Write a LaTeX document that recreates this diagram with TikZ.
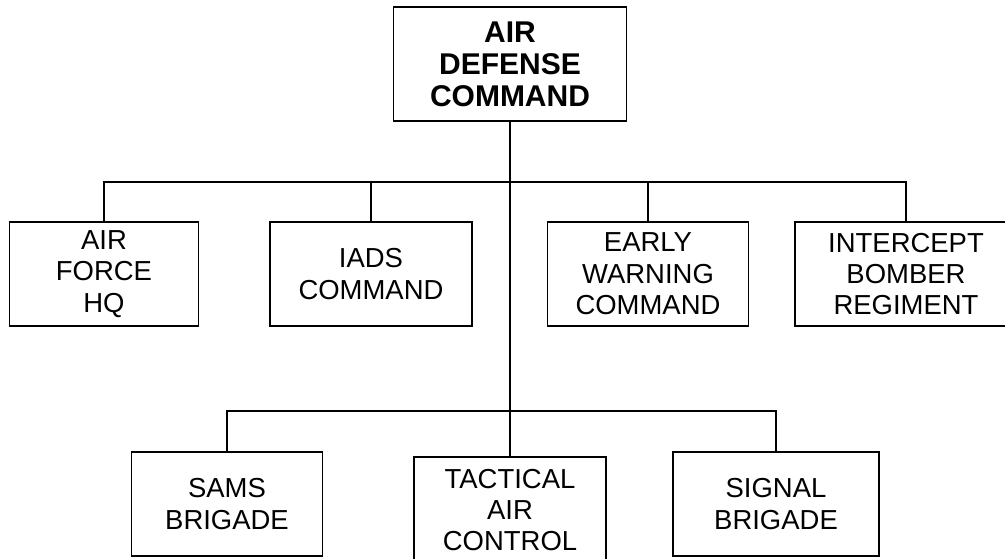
\documentclass[tikz,border=0pt]{standalone}
\usepackage{fontspec}
\setmainfont{Liberation Sans}

\begin{document}
\begin{tikzpicture}[x=0.75pt, y=-0.75pt,
    unitbox/.style={draw, line width=1pt, align=center, inner sep=0pt,
        font=\fontsize{20.6}{23.5}\selectfont},
    headbox/.style={unitbox, font=\fontsize{22.5}{24}\selectfont\bfseries},
    link/.style={line width=1pt}]
    \useasboundingbox (0,0) rectangle (1005,559);

    % Command at the top
    \node[headbox, minimum width=0.75*233pt, minimum height=0.75*114pt] (adc) at (510, 64) {AIR\\DEFENSE\\COMMAND};

    % First row of units
    \node[unitbox, minimum width=0.75*189pt, minimum height=0.75*104pt] (afhq) at (104, 274) {AIR\\FORCE\\HQ};
    \node[unitbox, minimum width=0.75*202pt, minimum height=0.75*104pt] (iads) at (371, 274) {IADS\\COMMAND};
    \node[unitbox, minimum width=0.75*201pt, minimum height=0.75*104pt] (ewc) at (648, 274) {EARLY\\WARNING\\COMMAND};
    \node[unitbox, minimum width=0.75*222pt, minimum height=0.75*104pt] (ibr) at (906, 274) {INTERCEPT\\BOMBER\\REGIMENT};

    % Second row of units
    \node[unitbox, minimum width=0.75*191pt, minimum height=0.75*104pt] (sams) at (227, 504) {SAMS\\BRIGADE};
    \node[unitbox, minimum width=0.75*192pt, minimum height=0.75*106pt] (tac) at (510, 510) {TACTICAL\\AIR\\CONTROL};
    \node[unitbox, minimum width=0.75*206pt, minimum height=0.75*104pt] (sig) at (776, 504) {SIGNAL\\BRIGADE};

    % Bus lines
    \coordinate (busa) at (510, 182);
    \coordinate (busb) at (510, 411);

    \draw[link] (adc.south) -- (tac.north);
    \draw[link] (afhq.north) |- (busa) -| (ibr.north);
    \draw[link] (iads.north) -- (iads.north |- busa);
    \draw[link] (ewc.north) -- (ewc.north |- busa);
    \draw[link] (sams.north) |- (busb) -| (sig.north);
\end{tikzpicture}
\end{document}
